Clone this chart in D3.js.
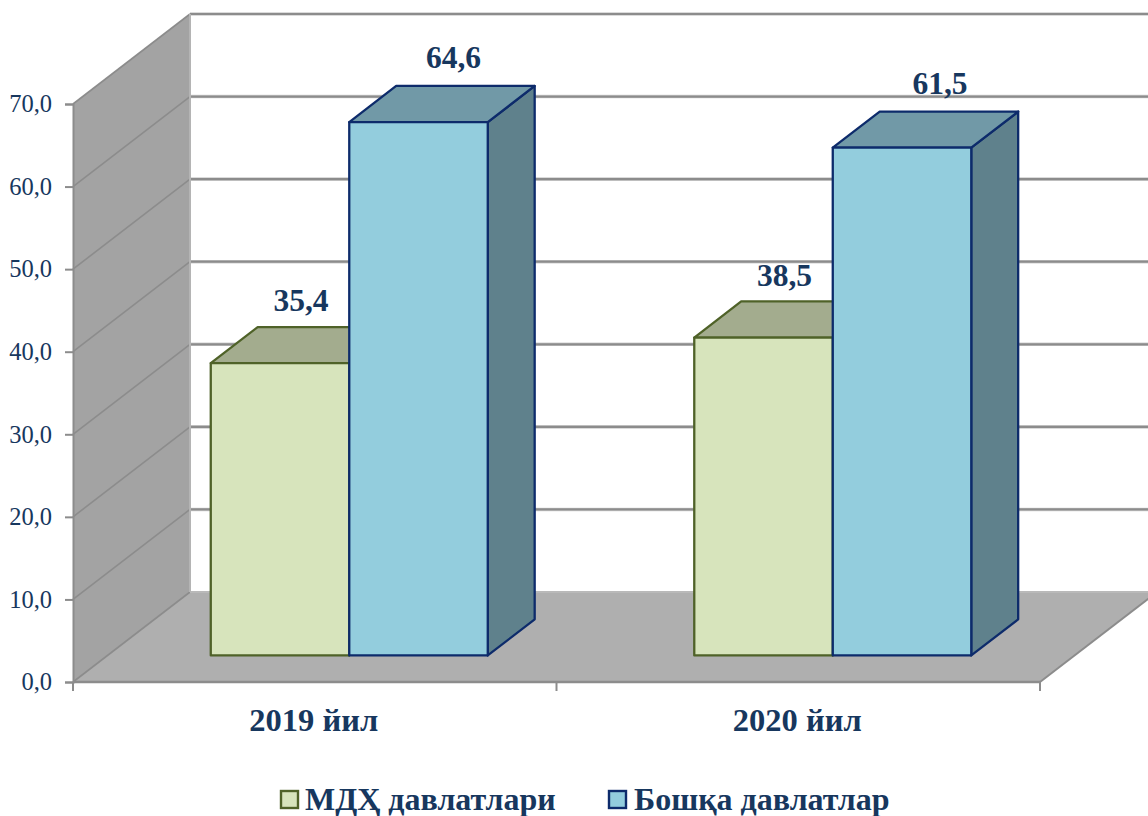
<!DOCTYPE html>
<html><head><meta charset="utf-8">
<script src="https://cdn.jsdelivr.net/npm/d3@7"></script>
<style>html,body{margin:0;padding:0;background:#fff;overflow:hidden}svg{display:block}text{font-family:"Liberation Serif",serif;fill:#17375e}</style>
</head><body><svg id="c" width="1148" height="816"></svg>
<script>
const categories = ["2019 йил", "2020 йил"];
const seriesNames = ["МДҲ давлатлари", "Бошқа давлатлар"];
const cisValues = [35.4, 38.5];
const otherValues = [64.6, 61.5];
const yTicks = [0, 10, 20, 30, 40, 50, 60, 70];
const fmt = v => v.toFixed(1).replace(".", ",");

const svg = d3.select("#c");
const x = d3.scaleBand().domain(categories).range([73, 1040]).paddingInner(0).paddingOuter(0);
const y = d3.scaleLinear().domain([0, 70]).range([682, 104]);
// depth axis: 0 = front plane of the box, 1 = back wall
const dx = d3.scaleLinear().domain([0, 1]).range([0, 117]);
const dy = d3.scaleLinear().domain([0, 1]).range([0, -90]);
const P = (px, py, d) => [px + dx(d), py + dy(d)];
const poly = pts => "M" + pts.map(p => p.join(",")).join("L") + "Z";
const GRID = "#8c8c8c";

// walls and floor
const x0 = x.range()[0], x1 = x.range()[1];
svg.append("path").attr("d", poly([P(x0,y(0),0), P(x1,y(0),0), P(x1,y(0),1), P(x0,y(0),1)])).attr("fill", "#afafaf");
svg.append("path").attr("d", poly([P(x0,y(0),0), P(x0,y(70),0), P(x0,y(70),1), P(x0,y(0),1)])).attr("fill", "#a3a3a3");
// gridlines
yTicks.forEach(t => {
  const a = P(x0,y(t),0), b = P(x0,y(t),1), c = P(x1,y(t),1);
  svg.append("path").attr("d", `M${a}L${b}`).attr("stroke", GRID).attr("stroke-width", 1.6).attr("fill","none");
  if (t > 0) svg.append("path").attr("d", `M${b}L${c}`).attr("stroke", "#cfcfcf").attr("stroke-width", 3.6).attr("fill","none");
  svg.append("path").attr("d", `M${b}L${c}`).attr("stroke", t === 0 ? "#b9b9b9" : GRID).attr("stroke-width", t === 0 ? 2 : 2.2).attr("fill","none");
});
svg.append("path").attr("d", `M${P(x1,y(0),0)}L${P(x1,y(0),1)}`).attr("stroke", GRID).attr("stroke-width", 2).attr("fill","none");
svg.append("path").attr("d", `M${P(x0,y(0),1)}L${P(x0,y(70),1)}`).attr("stroke", "#b4b4b4").attr("stroke-width", 2).attr("fill","none");

// bars
const sub = d3.scaleBand().domain([0, 1]).range([0, x.bandwidth()]).paddingOuter(0.7455).paddingInner(0);
const DF = 0.295, DB = 0.696;
const styles = [
  {front:"#d7e4bc", top:"#a3ac8e", side:"#899474", stroke:"#4f6228", dx:[21,21], dy:52},
  {front:"#93cddd", top:"#7199a7", side:"#5f818c", stroke:"#0d2b6b", dx:[35,38], dy:54}
];
[cisValues, otherValues].forEach((vals, s) => {
  const st = styles[s];
  vals.forEach((v, i) => {
    const l = x(categories[i]) + sub(s), r = l + sub.bandwidth();
    const T = y(v), B = y(0);
    const g = svg.append("g").attr("stroke", st.stroke).attr("stroke-width", 2.3).attr("stroke-linejoin","round");
    g.append("path").attr("d", poly([P(r,B,DF),P(r,T,DF),P(r,T,DB),P(r,B,DB)])).attr("fill", st.side);
    g.append("path").attr("d", poly([P(l,T,DF),P(r,T,DF),P(r,T,DB),P(l,T,DB)])).attr("fill", st.top);
    g.append("path").attr("d", poly([P(l,B,DF),P(r,B,DF),P(r,T,DF),P(l,T,DF)])).attr("fill", st.front);
  });
});
// value labels
[cisValues, otherValues].forEach((vals, s) => {
  vals.forEach((v, i) => {
    const l = x(categories[i]) + sub(s), r = l + sub.bandwidth();
    const p = P((l + r) / 2, y(v), DF);
    svg.append("text").attr("x", p[0] + styles[s].dx[i]).attr("y", p[1] - styles[s].dy)
      .attr("text-anchor","middle").attr("font-weight","bold").attr("font-size", 31.5).text(fmt(v));
  });
});

// axes
const yAxis = d3.axisLeft(y).tickValues(yTicks).tickFormat(fmt).tickSize(8).tickPadding(13);
const ga = svg.append("g").attr("transform", `translate(${x0},0)`).call(yAxis);
ga.selectAll("text").attr("font-size", 24.5).style("font-family",'"Liberation Serif",serif').style("fill","#17375e");
ga.selectAll("line").attr("stroke", GRID).attr("stroke-width", 2);
ga.select(".domain").attr("stroke", GRID).attr("stroke-width", 2);
const xTicks = [x0, x(categories[1]), x1];
const gx = svg.append("g");
gx.append("line").attr("x1",x0).attr("x2",x1).attr("y1",y(0)).attr("y2",y(0)).attr("stroke",GRID).attr("stroke-width",2.4);
xTicks.forEach(t => gx.append("line").attr("x1",t).attr("x2",t).attr("y1",y(0)).attr("y2",y(0)+9).attr("stroke",GRID).attr("stroke-width",2));
categories.forEach(c => {
  svg.append("text").attr("x", x(c) + x.bandwidth()/2 - 1).attr("y", 731).attr("text-anchor","middle")
    .attr("font-weight","bold").attr("font-size", 32.5).text(c);
});

// legend
const legendX = [281, 609], legendText = [305, 634];
seriesNames.forEach((n, s) => {
  svg.append("rect").attr("x", legendX[s]).attr("y", 791).attr("width", 17).attr("height", 17)
    .attr("fill", styles[s].front).attr("stroke", styles[s].stroke).attr("stroke-width", 2.4);
  svg.append("text").attr("x", legendText[s]).attr("y", 810).attr("font-weight","bold").attr("font-size", 32).text(n);
});
</script></body></html>
